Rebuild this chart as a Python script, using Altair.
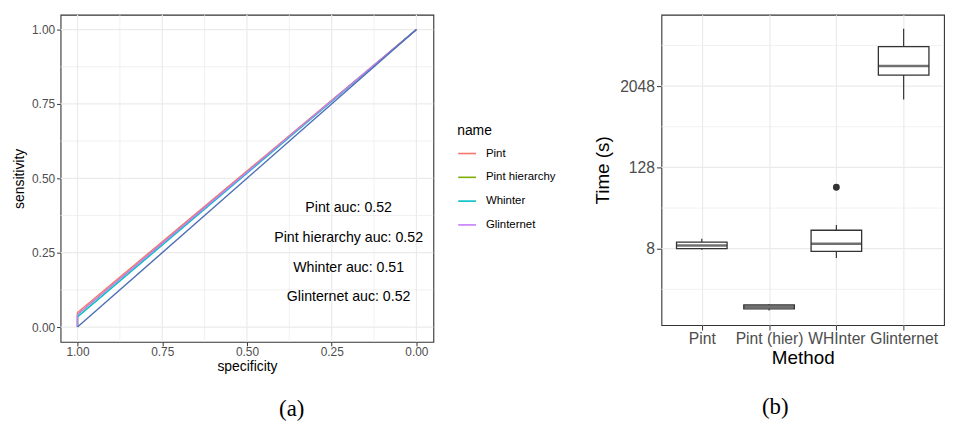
import altair as alt
import pandas as pd

# ---------------- Panel (a): ROC curves ----------------
roc_names = ["Pint", "Pint hierarchy", "Whinter", "Glinternet"]
roc_colors = ["#F8766D", "#7CAE00", "#00BFC4", "#C77CFF"]
roc_start_sens = [0.049, 0.042, 0.034, 0.042]
roc_spec_pts = [1.0, 1.0, 0.0]
roc_end_sens = 1.0
diag_spec = [1.0, 0.0]
diag_sens = [0.0, 1.0]
auc_labels = ["Pint auc: 0.52", "Pint hierarchy auc: 0.52",
              "Whinter auc: 0.51", "Glinternet auc: 0.52"]
auc_x = [0.2, 0.2, 0.2, 0.2]
auc_y = [0.4, 0.3, 0.2, 0.1]
a_major = [0.0, 0.25, 0.5, 0.75, 1.0]
a_minor = [0.125, 0.375, 0.625, 0.875]

# ---------------- Panel (b): timing boxplots ----------------
methods = ["Pint", "Pint (hier)", "WHInter", "Glinternet"]
whisk_lo = [7.7, 0.97, 5.85, 1300]
q1 = [8.0, 1.03, 7.3, 2980]
median = [8.94, 1.11, 9.5, 4070]
q3 = [10.0, 1.18, 15.0, 7860]
whisk_hi = [11.2, 1.21, 17.9, 14500]
out_method = ["WHInter"]
out_time = [65]
b_major = [8, 128, 2048]
b_minor = [2, 32, 512, 8192]

SANS = "Liberation Sans"
GRID = "#EBEBEB"
DARK = "#333333"

# ---- build tables ----
rows = []
for n, s0 in zip(roc_names, roc_start_sens):
    sens = [0.0, s0, roc_end_sens]
    for i, (sp, se) in enumerate(zip(roc_spec_pts, sens)):
        rows.append({"name": n, "specificity": sp, "sensitivity": se, "ord": i})
roc_df = pd.DataFrame(rows)
diag_df = pd.DataFrame({"specificity": diag_spec, "sensitivity": diag_sens,
                        "ord": list(range(len(diag_spec)))})
auc_df = pd.DataFrame({"label": auc_labels, "x": auc_x, "y": auc_y})
a_major_df = pd.DataFrame({"v": a_major})
a_minor_df = pd.DataFrame({"v": a_minor})

xs_a = alt.Scale(domain=[-0.05, 1.05], reverse=True, nice=False, zero=False)
ys_a = alt.Scale(domain=[-0.05, 1.05], nice=False, zero=False)
xa_axis = alt.Axis(values=a_major, format=".2f", tickSize=4, labelFontSize=12,
                   titleFontSize=14, titlePadding=2, labelPadding=1)
ya_axis = alt.Axis(values=a_major, format=".2f", tickSize=4, labelFontSize=12,
                   titleFontSize=14, titlePadding=5, labelPadding=2)


def XA(field):
    return alt.X(field, scale=xs_a, axis=xa_axis, title="specificity")


def YA(field):
    return alt.Y(field, scale=ys_a, axis=ya_axis, title="sensitivity")


grid_v_major = alt.Chart(a_major_df).mark_rule(color=GRID, strokeWidth=1.2).encode(
    x=XA("v:Q"))
grid_v_minor = alt.Chart(a_minor_df).mark_rule(color=GRID, strokeWidth=0.7).encode(
    x=XA("v:Q"))
grid_h_major = alt.Chart(a_major_df).mark_rule(color=GRID, strokeWidth=1.2).encode(
    y=YA("v:Q"))
grid_h_minor = alt.Chart(a_minor_df).mark_rule(color=GRID, strokeWidth=0.7).encode(
    y=YA("v:Q"))

lines = alt.Chart(roc_df).mark_line(strokeWidth=1.4).encode(
    x=XA("specificity:Q"), y=YA("sensitivity:Q"),
    order="ord:Q",
    color=alt.Color("name:N",
                    scale=alt.Scale(domain=roc_names, range=roc_colors),
                    sort=roc_names,
                    legend=alt.Legend(title="name", orient="none",
                                      legendX=400, legendY=110,
                                      symbolType="stroke", symbolStrokeWidth=1.6,
                                      symbolSize=320, labelFontSize=11.5,
                                      titleFontSize=14, titleFontWeight="normal",
                                      titleColor="black", labelColor="black",
                                      titlePadding=6, rowPadding=8, labelOffset=9,
                                      padding=0)),
)
diag = alt.Chart(diag_df).mark_line(strokeWidth=1.4, color="#4A6DB3").encode(
    x=XA("specificity:Q"), y=YA("sensitivity:Q"), order="ord:Q")
texts = alt.Chart(auc_df).mark_text(font=SANS, fontSize=14.3, color="black").encode(
    x=XA("x:Q"), y=YA("y:Q"), text="label:N")

panel_a = alt.layer(grid_v_minor, grid_v_major, grid_h_minor, grid_h_major,
                    lines, diag, texts).properties(
    width=376, height=330,
    title=alt.TitleParams("(a)", orient="bottom", anchor="middle", frame="bounds",
                          font="Liberation Serif", fontSize=23, fontWeight="normal",
                          color="black", offset=25, dx=69))

# ---- panel b ----
box_df = pd.DataFrame({"method": methods, "lo": whisk_lo, "q1": q1, "med": median,
                       "q3": q3, "hi": whisk_hi})
out_df = pd.DataFrame({"method": out_method, "time": out_time})
b_major_df = pd.DataFrame({"v": b_major})
b_minor_df = pd.DataFrame({"v": b_minor})

xs_b = alt.Scale(type="point", domain=methods, padding=0.6)
ys_b = alt.Scale(type="log", base=2, domain=[0.592, 23330], nice=False)
xb_axis = alt.Axis(grid=True, gridColor=GRID, gridWidth=1.2, labelAngle=0,
                   tickSize=5, labelFontSize=15.8, titleFontSize=19,
                   labelPadding=2, titlePadding=2)
yb_axis = alt.Axis(values=b_major, format="d", tickSize=5, labelFontSize=15.8,
                   titleFontSize=19, titlePadding=7, labelPadding=2)


def XB(field):
    return alt.X(field, scale=xs_b, sort=methods, axis=xb_axis, title="Method")


def YB(field):
    return alt.Y(field, scale=ys_b, axis=yb_axis, title="Time (s)")


grid_b_major = alt.Chart(b_major_df).mark_rule(color=GRID, strokeWidth=1.2).encode(
    y=YB("v:Q"))
grid_b_minor = alt.Chart(b_minor_df).mark_rule(color=GRID, strokeWidth=0.7).encode(
    y=YB("v:Q"))

whisk = alt.Chart(box_df).mark_rule(color=DARK, strokeWidth=1.2).encode(
    x=XB("method:N"), y=YB("lo:Q"), y2="hi:Q")
box = alt.Chart(box_df).mark_bar(size=51, fill="white", stroke=DARK,
                                 strokeWidth=1.3).encode(
    x=XB("method:N"), y=YB("q1:Q"), y2="q3:Q")
med = alt.Chart(box_df).mark_tick(size=51, thickness=2.6, color=DARK).encode(
    x=XB("method:N"), y=YB("med:Q"))
outl = alt.Chart(out_df).mark_circle(size=48, color=DARK, opacity=1).encode(
    x=XB("method:N"), y=YB("time:Q"))

panel_b = alt.layer(grid_b_minor, grid_b_major, whisk, box, med, outl).properties(
    width=285, height=313,
    title=alt.TitleParams("(b)", orient="bottom", anchor="middle", frame="bounds",
                          font="Liberation Serif", fontSize=23, fontWeight="normal",
                          color="black", offset=29, dx=6))

chart = alt.hconcat(panel_a, panel_b, spacing=159).properties(
    padding={"left": 4, "top": 3, "right": 0, "bottom": 0}
).configure_view(stroke=DARK, strokeWidth=1.1).configure_axis(
    grid=False, domain=False, labelFont=SANS, titleFont=SANS,
    labelColor="#4D4D4D", titleColor="black", tickColor=DARK,
    titleFontWeight="normal"
).configure_legend(labelFont=SANS, titleFont=SANS)

chart.save("out.html", embed_options={"renderer": "svg", "actions": False})
